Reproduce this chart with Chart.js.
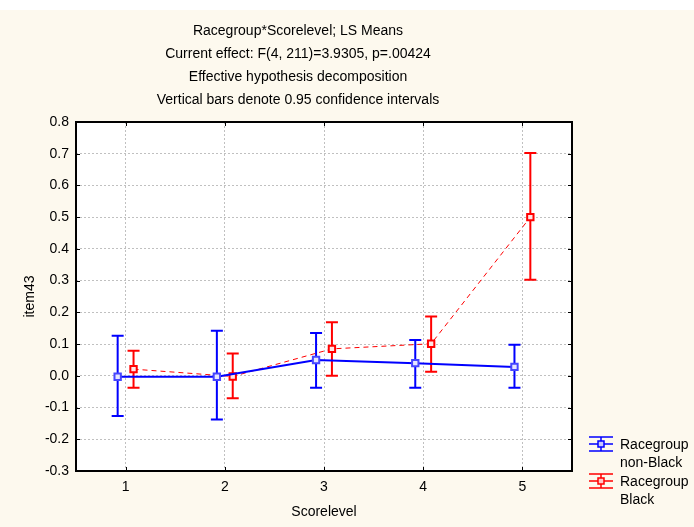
<!DOCTYPE html>
<html>
<head>
<meta charset="utf-8">
<script src="https://cdn.jsdelivr.net/npm/chart.js@4"></script>
<style>
  html, body { margin: 0; padding: 0; background: #ffffff; }
  #wrap { width: 694px; height: 527px; }
</style>
</head>
<body>
<div id="wrap"><canvas id="chart" width="694" height="527"></canvas></div>
<script>
// data
const categories = [1, 2, 3, 4, 5];
const nonBlackMeans = [-0.003, -0.003, 0.05, 0.04, 0.028];
const nonBlackLower = [-0.127, -0.138, -0.038, -0.038, -0.038];
const nonBlackUpper = [0.126, 0.142, 0.135, 0.113, 0.098];
const blackMeans = [0.021, -0.002, 0.085, 0.101, 0.5];
const blackLower = [-0.038, -0.071, 0.0, 0.013, 0.303];
const blackUpper = [0.079, 0.07, 0.169, 0.187, 0.702];
const yTicks = [-0.3, -0.2, -0.1, 0.0, 0.1, 0.2, 0.3, 0.4, 0.5, 0.6, 0.7, 0.8];
const titleLines = [
    'Racegroup*Scorelevel; LS Means',
    'Current effect: F(4, 211)=3.9305, p=.00424',
    'Effective hypothesis decomposition',
    'Vertical bars denote 0.95 confidence intervals'
];
const legendItems = [
    { lines: ['Racegroup', 'non-Black'], color: '#0000ff', fill: '#c8c8ff' },
    { lines: ['Racegroup', 'Black'], color: '#ff0000', fill: '#ffc8c8' }
];

const FONT = '"Liberation Sans", Arial, sans-serif';
const jitter = 0.08; // side-by-side offset of the two groups

function points(means, shift) {
    return categories.map((c, i) => ({ x: c + shift, y: means[i] }));
}

// background + white plot area
const backgroundPlugin = {
    id: 'background',
    beforeDraw(chart) {
        const ctx = chart.ctx;
        const a = chart.chartArea;
        ctx.save();
        ctx.fillStyle = '#ffffff';
        ctx.fillRect(0, 0, chart.width, chart.height);
        ctx.fillStyle = '#fdf9ee';
        ctx.fillRect(0, 10, chart.width, chart.height - 10);
        ctx.fillStyle = '#ffffff';
        ctx.fillRect(a.left, a.top, a.right - a.left, a.bottom - a.top);
        ctx.restore();
    }
};

// vertical error bars
const errorBarPlugin = {
    id: 'errorBars',
    beforeDatasetsDraw(chart) {
        const ctx = chart.ctx;
        const xs = chart.scales.x, ys = chart.scales.y;
        ctx.save();
        chart.data.datasets.forEach(ds => {
            ctx.strokeStyle = ds.borderColor;
            ctx.lineWidth = 2;
            ds.data.forEach((p, i) => {
                const x = xs.getPixelForValue(p.x);
                const top = ys.getPixelForValue(ds.upper[i]);
                const bot = ys.getPixelForValue(ds.lower[i]);
                ctx.beginPath();
                ctx.moveTo(x, top); ctx.lineTo(x, bot);
                ctx.moveTo(x - 6, top); ctx.lineTo(x + 6, top);
                ctx.moveTo(x - 6, bot); ctx.lineTo(x + 6, bot);
                ctx.stroke();
            });
        });
        ctx.restore();
    }
};

// frame, inner tick marks, titles and legend
const decorPlugin = {
    id: 'decor',
    afterDraw(chart) {
        const ctx = chart.ctx;
        const a = chart.chartArea;
        const xs = chart.scales.x, ys = chart.scales.y;
        ctx.save();
        ctx.strokeStyle = '#000000';
        ctx.lineWidth = 2;
        ctx.strokeRect(a.left, a.top, a.right - a.left, a.bottom - a.top);
        ctx.lineWidth = 1;
        ctx.beginPath();
        yTicks.forEach(v => {
            const y = Math.round(ys.getPixelForValue(v)) + 0.5;
            ctx.moveTo(a.left, y); ctx.lineTo(a.left + 4, y);
            ctx.moveTo(a.right, y); ctx.lineTo(a.right - 4, y);
        });
        categories.forEach(c => {
            const x = Math.round(xs.getPixelForValue(c)) + 0.5;
            ctx.moveTo(x, a.bottom); ctx.lineTo(x, a.bottom - 4);
            ctx.moveTo(x, a.top); ctx.lineTo(x, a.top + 4);
        });
        ctx.stroke();

        // titles
        ctx.fillStyle = '#000000';
        ctx.font = '14px ' + FONT;
        ctx.textAlign = 'center';
        ctx.textBaseline = 'middle';
        titleLines.forEach((t, i) => ctx.fillText(t, 298, 31 + i * 23));

        // legend
        ctx.textAlign = 'left';
        legendItems.forEach((item, k) => {
            const cy = 444 + k * 37;
            const cx = 601;
            ctx.strokeStyle = item.color;
            ctx.lineWidth = 1.5;
            ctx.beginPath();
            ctx.moveTo(cx - 12, cy - 7); ctx.lineTo(cx + 12, cy - 7);
            ctx.moveTo(cx - 12, cy); ctx.lineTo(cx + 12, cy);
            ctx.moveTo(cx - 12, cy + 7); ctx.lineTo(cx + 12, cy + 7);
            ctx.moveTo(cx, cy - 7); ctx.lineTo(cx, cy + 7);
            ctx.stroke();
            ctx.fillStyle = item.fill;
            ctx.fillRect(cx - 3, cy - 3, 6, 6);
            ctx.strokeRect(cx - 3, cy - 3, 6, 6);
            ctx.fillStyle = '#000000';
            ctx.fillText(item.lines[0], 620, cy + 1);
            ctx.fillText(item.lines[1], 620, cy + 19);
        });
        ctx.restore();
    }
};

new Chart(document.getElementById('chart'), {
    type: 'scatter',
    data: {
        datasets: [
            {
                label: 'Racegroup non-Black',
                data: points(nonBlackMeans, -jitter),
                lower: nonBlackLower,
                upper: nonBlackUpper,
                showLine: true,
                borderColor: '#0000ff',
                backgroundColor: '#c8c8ff',
                borderWidth: 2,
                pointStyle: 'rect',
                pointRadius: 4.5,
                pointBorderWidth: 2,
                pointBorderColor: '#4646ff',
                pointBackgroundColor: '#e6e6ff'
            },
            {
                label: 'Racegroup Black',
                data: points(blackMeans, jitter),
                lower: blackLower,
                upper: blackUpper,
                showLine: true,
                borderColor: '#ff0000',
                backgroundColor: '#ffc8c8',
                borderWidth: 1,
                borderDash: [5, 4],
                pointStyle: 'rect',
                pointRadius: 4.5,
                pointBorderWidth: 2,
                pointBorderColor: '#ff0000',
                pointBackgroundColor: '#ffe6e6'
            }
        ]
    },
    options: {
        responsive: false,
        animation: false,
        layout: { padding: { top: 122, right: 122, left: 0, bottom: 0 } },
        plugins: {
            legend: { display: false },
            title: { display: false },
            tooltip: { enabled: false }
        },
        scales: {
            x: {
                type: 'linear',
                min: 0.5,
                max: 5.5,
                afterBuildTicks: s => { s.ticks = categories.map(v => ({ value: v })); },
                afterFit: s => { s.height = 56; },
                ticks: {
                    color: '#000000',
                    font: { family: FONT, size: 14 },
                    padding: 8,
                    callback: v => String(v)
                },
                grid: {
                    color: '#c0c0c0',
                    drawTicks: false
                },
                border: { display: false, dash: [2, 2] },
                title: {
                    display: true,
                    text: 'Scorelevel',
                    color: '#000000',
                    font: { family: FONT, size: 14 },
                    padding: { top: 0, bottom: 6 }
                }
            },
            y: {
                min: -0.3,
                max: 0.8,
                afterBuildTicks: s => { s.ticks = yTicks.map(v => ({ value: v })); },
                afterFit: s => { s.width = 76; },
                ticks: {
                    color: '#000000',
                    font: { family: FONT, size: 14 },
                    padding: 7,
                    callback: v => v.toFixed(1)
                },
                grid: {
                    color: '#c0c0c0',
                    drawTicks: false
                },
                border: { display: false, dash: [2, 2] },
                title: {
                    display: true,
                    text: 'item43',
                    color: '#000000',
                    font: { family: FONT, size: 14 },
                    padding: { top: 22, bottom: 0 }
                }
            }
        }
    },
    plugins: [backgroundPlugin, errorBarPlugin, decorPlugin]
});
</script>
</body>
</html>
